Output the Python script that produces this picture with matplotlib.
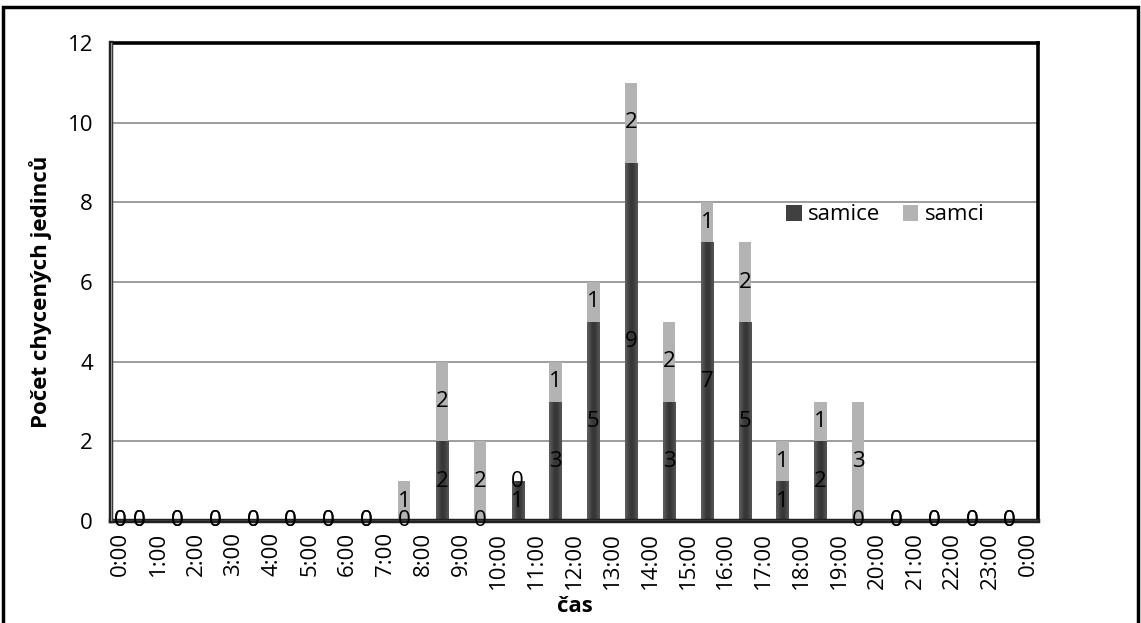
import numpy as np
import matplotlib
matplotlib.use("Agg")
import matplotlib.pyplot as plt
from matplotlib.patches import Rectangle

plt.rcParams['font.family'] = ['Open Sans', 'DejaVu Sans']

# catch times (hh:mm) and counts per sex
cas = ["0:00", "0:30", "1:30", "2:30", "3:30", "4:30", "5:30", "6:30",
       "7:30", "8:30", "9:30", "10:30", "11:30", "12:30", "13:30", "14:30",
       "15:30", "16:30", "17:30", "18:30", "19:30", "20:30", "21:30",
       "22:30", "23:30"]
samice = [0, 0, 0, 0, 0, 0, 0, 0, 0, 2, 0, 1, 3, 5, 9, 3, 7, 5, 1, 2, 0, 0, 0, 0, 0]
samci = [0, 0, 0, 0, 0, 0, 0, 0, 1, 2, 2, 0, 1, 1, 2, 2, 1, 2, 1, 1, 3, 0, 0, 0, 0]
hodiny = ["%d:00" % (h % 24) for h in range(25)]
y_ticks = [0, 2, 4, 6, 8, 10, 12]

x = np.array([int(t.split(":")[0]) + int(t.split(":")[1]) / 60 for t in cas])
samice = np.array(samice)
samci = np.array(samci)

fs = 16

fig = plt.figure(figsize=(11.41, 6.23), dpi=100)
ax = fig.add_axes([111 / 1141, 1 - 521 / 623, 927 / 1141, 478 / 623])

w = 0.325
b1 = ax.bar(x, samice, w, color='#404040', label='samice', zorder=3)
b2 = ax.bar(x, samci, w, bottom=samice, color='#b3b3b3', label='samci', zorder=3)

# horizontal shading on the dark bars
grad = np.array([[0.36, 0.30, 0.24, 0.21, 0.22, 0.27, 0.33]])
for p in b1.patches:
    if p.get_height() > 0:
        im = ax.imshow(grad, cmap='gray', vmin=0, vmax=1, aspect='auto',
                       interpolation='bicubic', zorder=3.1,
                       extent=[p.get_x(), p.get_x() + p.get_width(),
                               p.get_y(), p.get_y() + p.get_height()])
        im.set_clip_path(p)

# value labels in each segment
for xi, f, m in zip(x, samice, samci):
    ax.text(xi, f / 2, str(f), ha='center', va='center', fontsize=fs, zorder=6)
    ax.text(xi, f + m / 2, str(m), ha='center', va='center', fontsize=fs, zorder=6)

ax.set_xlim(-0.25, 24.25)
ax.set_ylim(0, 12)
ax.set_xticks(range(25))
ax.set_xticklabels(hodiny, rotation=90, fontsize=fs)
ax.set_yticks(y_ticks)
ax.set_yticklabels([str(v) for v in y_ticks], fontsize=fs)
ax.tick_params(length=0)
ax.tick_params(axis='y', pad=13)
ax.tick_params(axis='x', pad=8)
ax.grid(axis='y', color='#8c8c8c', linewidth=1.2, zorder=1)
ax.set_axisbelow(True)

for s in ['top', 'right']:
    ax.spines[s].set_color('black')
    ax.spines[s].set_linewidth(2.6)
for s in ['left', 'bottom']:
    ax.spines[s].set_color('#222222')
    ax.spines[s].set_linewidth(3.2)
    ax.spines[s].set_zorder(4)
ax.axhline(0, color='#9a9a9a', linewidth=1.0, zorder=4.5)
ax.axvline(-0.25, color='#9a9a9a', linewidth=1.0, zorder=4.5)

fig.text(41 / 1141, 1 - 292 / 623, "Počet chycených jedinců", rotation=90,
         ha='center', va='center', fontsize=fs, fontweight='bold')
fig.text(574.5 / 1141, 1 - 607 / 623, "čas", ha='center', va='center',
         fontsize=fs, fontweight='bold')

ax.legend(loc='center left', bbox_to_anchor=(775 / 1141, 1 - 215 / 623),
          bbox_transform=fig.transFigure, ncol=2, frameon=False, fontsize=fs,
          handlelength=0.7, handleheight=0.7, handletextpad=0.3,
          columnspacing=1.0, borderpad=0)

# outer chart frame
fig.patches.append(Rectangle((3 / 1141, -0.02), 1135 / 1141, 1.02 - 7 / 623,
                             transform=fig.transFigure, fill=False,
                             edgecolor='black', linewidth=2.5))

fig.savefig('out.png', dpi=100)
